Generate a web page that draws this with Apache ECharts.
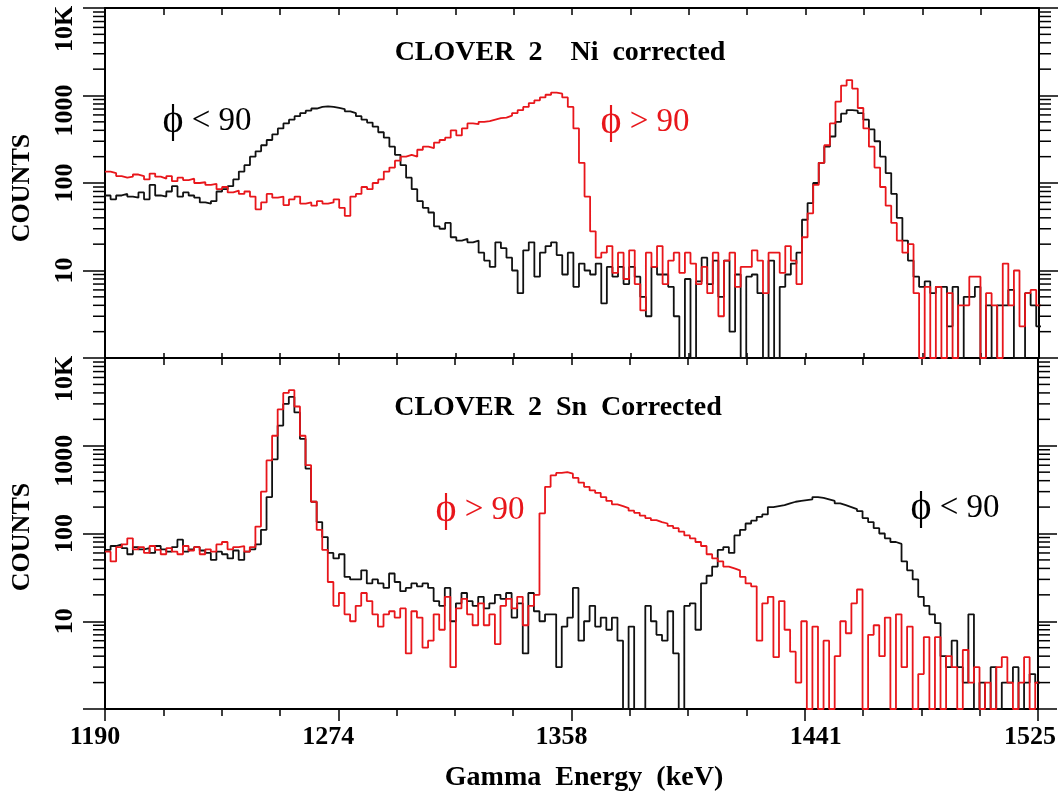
<!DOCTYPE html>
<html><head><meta charset="utf-8">
<script src="https://cdn.jsdelivr.net/npm/echarts@6/dist/echarts.min.js"></script>
<style>html,body{margin:0;padding:0;background:#fff}#c{width:1059px;height:799px}</style>
</head><body><div id="c"></div>
<script>
// ---- data: 2 keV histogram bins (left edges, keV) ----
const energyBins = [
1190,1192,1194,1196,1198,1200,1202,1204,1206,1208,
1210,1212,1214,1216,1218,1220,1222,1224,1226,1228,
1230,1232,1234,1236,1238,1240,1242,1244,1246,1248,
1250,1252,1254,1256,1258,1260,1262,1264,1266,1268,
1270,1272,1274,1276,1278,1280,1282,1284,1286,1288,
1290,1292,1294,1296,1298,1300,1302,1304,1306,1308,
1310,1312,1314,1316,1318,1320,1322,1324,1326,1328,
1330,1332,1334,1336,1338,1340,1342,1344,1346,1348,
1350,1352,1354,1356,1358,1360,1362,1364,1366,1368,
1370,1372,1374,1376,1378,1380,1382,1384,1386,1388,
1390,1392,1394,1396,1398,1400,1402,1404,1406,1408,
1410,1412,1414,1416,1418,1420,1422,1424,1426,1428,
1430,1432,1434,1436,1438,1440,1442,1444,1446,1448,
1450,1452,1454,1456,1458,1460,1462,1464,1466,1468,
1470,1472,1474,1476,1478,1480,1482,1484,1486,1488,
1490,1492,1494,1496,1498,1500,1502,1504,1506,1508,
1510,1512,1514,1516,1518,1520,1522,1524];
const lastBinEdge = 1526;

// CLOVER 2, Ni corrected, phi < 90 (black)
const niPhiLow = [
72,65,72,75,70,68,78,65,95,72,
70,80,92,70,78,72,68,60,58,62,
80,85,92,110,135,160,200,230,270,310,
360,420,480,530,580,630,670,710,740,750,
740,720,700,660,630,580,530,490,440,380,
330,260,210,160,115,85,62,52,46,32,
30,35,24,22,23,21,22,16,13,11,
21,18,14,10,5.5,17,21,8.5,16,19,
21,15,9,16,6.5,12,10,9,12,4.2,
11,8.5,11,7,11,8.5,5,3,11,9,
9,6.5,3,1,8,1,7.5,14,7,13,
5,13,2,9,1,8.5,9,5.5,1,13,
1,6.5,9,12,16,38,59,100,170,260,
340,500,620,680,670,630,530,410,300,200,
130,75,40,22,13,8.5,6.5,7.5,5.5,6.5,
6.5,2.3,6.5,1,5,5,6.5,1,4,1,
4,4,6,1,1,5.5,4,2.3];
// CLOVER 2, Ni corrected, phi > 90 (red)
const niPhiHigh = [
135,130,120,115,118,125,120,110,128,118,
112,120,105,115,108,112,100,102,95,98,
85,90,78,82,75,80,70,50,60,75,
68,70,56,65,70,58,60,55,62,58,
60,65,52,42,70,75,90,85,100,110,
135,150,180,200,210,200,240,260,250,290,
310,330,400,350,420,480,470,500,510,530,
550,560,590,630,680,740,820,880,950,1020,
1080,1050,950,740,420,170,70,28,14,16,
19,9.4,16,8,17,7,3.5,16,11,19,
7,13,16,9.4,16,12,7,11,5.5,16,
3,13,16,6.5,11,11,17,13,5.5,16,
16,9.4,19,13,7,24,45,95,170,270,
480,850,1300,1500,1200,720,420,260,150,90,
55,35,22,16,20,5.5,1,6.5,1,6.5,
1,5.5,1,4,4,8.5,8.5,1,5.5,4,
1,12,4,10,2.3,5.5,6,4];
// CLOVER 2, Sn corrected, phi < 90 (black)
const snPhiLow = [
65,72,75,68,58,70,66,68,60,72,
66,62,70,85,62,66,70,64,60,50,
62,58,52,64,50,62,66,75,110,260,
700,1700,3000,3600,2400,1200,550,230,135,91,
60,52,58,32,30,30,38,27,30,27,
24,35,28,22,24,27,25,27,24,17,
15,24,10,16,21,17,15,19,14,16,
20,18,21,11,16,4.3,21,13,10,12,
12,3,8.7,11,24,6,10,15,8.7,11,
8,11,6,1,8.7,1,1,15,10,7,
6,13,4.3,1,15,16,8,27,33,42,
65,70,60,95,110,130,140,155,165,200,
205,210,220,230,235,240,245,260,255,245,
235,220,210,200,190,180,150,135,115,100,
88,80,76,48,38,30,19,15,12,9.5,
4,3,6,3,2,12,1,2,1,3,
1,2,2,3,1,2,2.5,2];
// CLOVER 2, Sn corrected, phi > 90 (red)
const snPhiHigh = [
62,48,70,75,88,66,70,60,72,65,
58,68,62,58,72,64,70,58,66,62,
75,80,66,70,72,62,70,120,300,680,
1300,2600,4000,4300,2800,1300,600,230,110,65,
28,15,21,12,10,15,21,17,12,8.7,
12,13,11,14,4.3,13,11,5,6,12,
8,19,3,14,18,12,9,16,9,12,
5.5,15,18,14,19,9,15,20,170,340,
460,490,500,480,430,380,340,310,290,260,
235,215,205,195,182,172,160,150,142,135,
130,122,115,105,95,88,80,72,58,52,
48,42,40,38,32,27,25,6,16,19,
3.9,17,8,4.5,2,10,1,8.7,1,6,
1,4,10,7.3,16,23,1,7,9,4,
11,1,12,3,8.7,1,2.5,6.6,1,6.6,
1,4,3,1,4.7,2,3,1,2,1,
3,3.9,2,1,2,3.9,1,2];

// ---- axes / tick labels ----
const xRange = [1190, 1525];
const xTickLabels = ['1190', '1274', '1358', '1441', '1525'];
const xTickDivisions = 16;   // small ticks along the energy axis
const yRange = [1, 10000];
const yTickValues = [10, 100, 1000, 10000];
const yTickLabels = ['10', '100', '1000', '10K'];
const yMinorTicks = [2,3,4,5,6,7,8,9, 20,30,40,50,60,70,80,90,
  200,300,400,500,600,700,800,900, 2000,3000,4000,5000,6000,7000,8000,9000];

// ---- texts ----
const panelTitles = ['CLOVER  2    Ni  corrected', 'CLOVER  2  Sn  Corrected'];
const yAxisTitle = 'COUNTS';
const xAxisTitle = 'Gamma  Energy  (keV)';
const phiSymbol = '\u03D5';
const phiLowRest = ' < 90';
const phiHighRest = ' > 90';

const SERIF = "'Liberation Serif','DejaVu Serif','Times New Roman',serif";
const BLACK = '#111111';
const RED = '#e8161b';

function steps(vals) {
  const d = energyBins.map((e, i) => [e, vals[i]]);
  d.push([lastBinEdge, vals[vals.length - 1]]);
  return d;
}

const grids = [
  {left: 105, top: 8, width: 934, height: 350},
  {left: 105, top: 358, width: 934, height: 351}
];

const xAxes = [];
const yAxes = [];
const series = [];

const labelFont = {fontFamily: SERIF, fontWeight: 'bold', fontSize: 26, color: '#000'};
// per-label horizontal nudges (style only)
const xLabelRich = {
  l10: Object.assign({padding: [0, 20, 0, 0]}, labelFont),
  l16: Object.assign({padding: [0, 16, 0, 0]}, labelFont),
  r24: Object.assign({padding: [0, 0, 0, 22]}, labelFont)
};
const xLabelStyleKey = ['l10', 'l10', 'l10', 'r24', 'l16'];

function tickAxis(g, position, inside, len, minorLen, showLabel) {
  const step = xTickDivisions / (xTickLabels.length - 1);
  return {
    type: 'value', gridIndex: g, position: position, min: 0, max: xTickDivisions, interval: step,
    axisLine: {show: true, onZero: false, lineStyle: {color: '#000', width: 2}},
    axisTick: {show: true, inside: inside, length: len, lineStyle: {color: '#000', width: 1.5}},
    minorTick: {show: true, splitNumber: step, length: minorLen, lineStyle: {color: '#000', width: 1.5}},
    splitLine: {show: false}, minorSplitLine: {show: false},
    axisLabel: {
      show: showLabel, margin: 15, color: '#000', fontFamily: SERIF, fontWeight: 'bold', fontSize: 26,
      showMinLabel: true, showMaxLabel: true,
      formatter: v => {
        const i = Math.round(v / step);
        return xTickLabels[i] ? '{' + xLabelStyleKey[i] + '|' + xTickLabels[i] + '}' : '';
      },
      rich: xLabelRich
    }
  };
}

grids.forEach((gr, g) => {
  const dataX = xAxes.length;
  xAxes.push({type: 'value', gridIndex: g, min: xRange[0], max: xRange[1], show: false});
  xAxes.push(tickAxis(g, 'bottom', g === 0, g === 0 ? 5 : 12, g === 0 ? 5 : 7, g === 1));
  xAxes.push(tickAxis(g, 'top', true, 7, 7, false));
  const leftY = yAxes.length;
  yAxes.push({
    type: 'log', gridIndex: g, position: 'left', min: yRange[0], max: yRange[1], logBase: 10, splitNumber: 4,
    axisLine: {show: true, onZero: false, lineStyle: {color: '#000', width: 2}},
    axisTick: {show: true, length: 22, lineStyle: {color: '#000', width: 1.5}},
    splitLine: {show: false},
    axisLabel: {
      rotate: 90, margin: 27, color: '#000', fontFamily: SERIF, fontWeight: 'bold', fontSize: 26,
      showMinLabel: true, showMaxLabel: true,
      formatter: v => {
        const i = yTickValues.indexOf(Math.round(v));
        if (i < 0) return '';
        if (yTickValues[i] === 10000) return '{k|' + yTickLabels[i] + '}';
        if (yTickValues[i] === 1000) return '{t|' + yTickLabels[i] + '}';
        return yTickLabels[i];
      },
      rich: {
        k: Object.assign({padding: [0, 42, 0, 0]}, labelFont),
        t: Object.assign({padding: [0, 30, 0, 0]}, labelFont)
      }
    }
  });
  yAxes.push({
    type: 'log', gridIndex: g, position: 'right', min: yRange[0], max: yRange[1], logBase: 10, splitNumber: 4,
    axisLine: {show: true, onZero: false, lineStyle: {color: '#000', width: 2}},
    axisTick: {show: true, length: 19, lineStyle: {color: '#000', width: 1.5}},
    splitLine: {show: false}, axisLabel: {show: false}
  });
  // minor log ticks on both sides
  series.push({
    type: 'custom', xAxisIndex: dataX, yAxisIndex: leftY, silent: true, clip: false, z: 5,
    data: yMinorTicks.map(v => [xRange[0], v]),
    encode: {x: 0, y: 1},
    renderItem: (params, api) => {
      const v = api.value(1);
      const l = api.coord([xRange[0], v]);
      const r = api.coord([xRange[1], v]);
      return {type: 'group', children: [
        {type: 'line', shape: {x1: l[0] - 12, y1: l[1], x2: l[0], y2: l[1]}, style: {stroke: '#000', lineWidth: 1.5}},
        {type: 'line', shape: {x1: r[0], y1: r[1], x2: r[0] + 12, y2: r[1]}, style: {stroke: '#000', lineWidth: 1.5}}
      ]};
    }
  });
  const low = g === 0 ? niPhiLow : snPhiLow;
  const high = g === 0 ? niPhiHigh : snPhiHigh;
  series.push({
    type: 'line', name: 'phi<90', xAxisIndex: dataX, yAxisIndex: leftY, step: 'end', showSymbol: false, symbol: 'none',
    data: steps(low), lineStyle: {color: BLACK, width: 1.8}, itemStyle: {color: BLACK}, z: 3, animation: false
  });
  series.push({
    type: 'line', name: 'phi>90', xAxisIndex: dataX, yAxisIndex: leftY, step: 'end', showSymbol: false, symbol: 'none',
    data: steps(high), lineStyle: {color: RED, width: 1.8}, itemStyle: {color: RED}, z: 3, animation: false
  });
});

function txt(x, y, text, size, weight, color, rot) {
  return {type: 'text', x: x, y: y, rotation: rot || 0, z: 10,
    style: {text: text, fontFamily: SERIF, fontSize: size, fontWeight: weight, fill: color,
      align: 'center', verticalAlign: 'middle'}};
}
function phiTxt(x, y, rest, color) {
  const base = {fontFamily: SERIF, fontSize: 33, fill: color, fontWeight: 'normal'};
  return {type: 'text', x: x, y: y, z: 10,
    style: Object.assign({}, base, {
      text: '{p|' + phiSymbol + '}{r|' + rest + '}',
      align: 'center', verticalAlign: 'middle',
      rich: {
        p: {fontFamily: SERIF, fontSize: 40, fill: color, verticalAlign: 'middle', lineHeight: 40},
        r: {fontFamily: SERIF, fontSize: 33, fill: color, verticalAlign: 'middle', lineHeight: 40}
      }
    })};
}

const chart = echarts.init(document.getElementById('c'), null, {renderer: 'canvas'});
chart.setOption({
  backgroundColor: '#fff',
  animation: false,
  grid: grids,
  xAxis: xAxes,
  yAxis: yAxes,
  series: series,
  graphic: [
    txt(560, 53, panelTitles[0], 28, 'bold', '#000'),
    txt(558, 408, panelTitles[1], 28, 'bold', '#000'),
    txt(22, 188, yAxisTitle, 26, 'bold', '#000', Math.PI / 2),
    txt(22, 537, yAxisTitle, 26, 'bold', '#000', Math.PI / 2),
    txt(584, 778, xAxisTitle, 28, 'bold', '#000'),
    phiTxt(207, 121, phiLowRest, '#000'),
    phiTxt(645, 122, phiHighRest, RED),
    phiTxt(480, 510, phiHighRest, RED),
    phiTxt(955, 508, phiLowRest, '#000')
  ]
});
</script>
</body></html>
